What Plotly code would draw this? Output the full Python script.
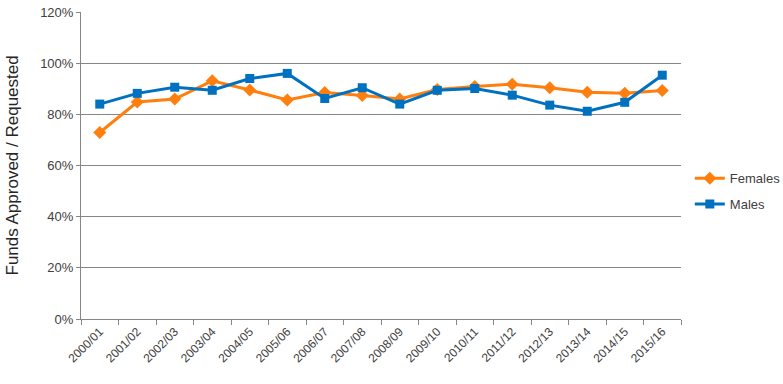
import plotly.graph_objects as go

years = ["2000/01", "2001/02", "2002/03", "2003/04", "2004/05", "2005/06", "2006/07", "2007/08",
         "2008/09", "2009/10", "2010/11", "2011/12", "2012/13", "2013/14", "2014/15", "2015/16"]
females = [72.9, 84.8, 86.0, 93.1, 89.5, 85.6, 88.5, 87.4, 86.0, 89.7, 90.9, 91.8, 90.4, 88.6, 88.2, 89.3]
males = [84.0, 88.2, 90.6, 89.4, 94.0, 96.0, 86.2, 90.4, 84.0, 89.4, 90.1, 87.5, 83.6, 81.2, 84.7, 95.3]
ytickvals = [0, 20, 40, 60, 80, 100, 120]
yticktext = ["0%", "20%", "40%", "60%", "80%", "100%", "120%"]

FONT = "Liberation Sans"
fig = go.Figure()
fig.add_trace(go.Scatter(x=years, y=females, name="Females", mode="lines+markers",
                         legendgroup="f",
                         line=dict(color="#FF7F0E", width=3),
                         marker=dict(symbol="diamond", size=10, color="#FF7F0E")))
fig.add_trace(go.Scatter(x=years, y=males, name="Males", mode="lines+markers",
                         legendgroup="m",
                         line=dict(color="#0070C0", width=3),
                         marker=dict(symbol="square", size=9, color="#0070C0")))

fig.update_layout(
    width=783, height=384,
    margin=dict(l=81, r=102, t=12, b=65, autoexpand=False),
    paper_bgcolor="white", plot_bgcolor="white",
    font=dict(family=FONT, size=12, color="#404040"),
    legend=dict(xref="container", yref="container", x=0.881, y=0.502,
                yanchor="middle", xanchor="left", traceorder="grouped",
                font=dict(family=FONT, size=13, color="#404040"),
                tracegroupgap=6),
    showlegend=True,
    annotations=[dict(text="Funds Approved / Requested", xref="paper", yref="paper",
                      x=-0.115, y=0.5, xanchor="center", yanchor="middle", textangle=-90,
                      showarrow=False, font=dict(family=FONT, size=17, color="#262626"))],
)
fig.update_xaxes(type="category", range=[-0.5, 15.5], tickangle=-45, automargin=False,
                 showgrid=False, showline=True, linecolor="#868686", linewidth=1,
                 ticks="outside", tickson="boundaries", ticklen=5, tickcolor="#868686",
                 tickfont=dict(family=FONT, size=12, color="#404040"))
fig.update_yaxes(range=[0, 120], tickvals=ytickvals, ticktext=yticktext, automargin=False,
                 showgrid=True, gridcolor="#868686", gridwidth=1,
                 showline=True, linecolor="#868686", linewidth=1,
                 ticks="outside", ticklen=4, tickcolor="#868686", zeroline=False,
                 tickfont=dict(family=FONT, size=13, color="#404040"))
fig.write_html("out.html", config={"displayModeBar": False},
               post_script="document.body.style.margin='0';")
